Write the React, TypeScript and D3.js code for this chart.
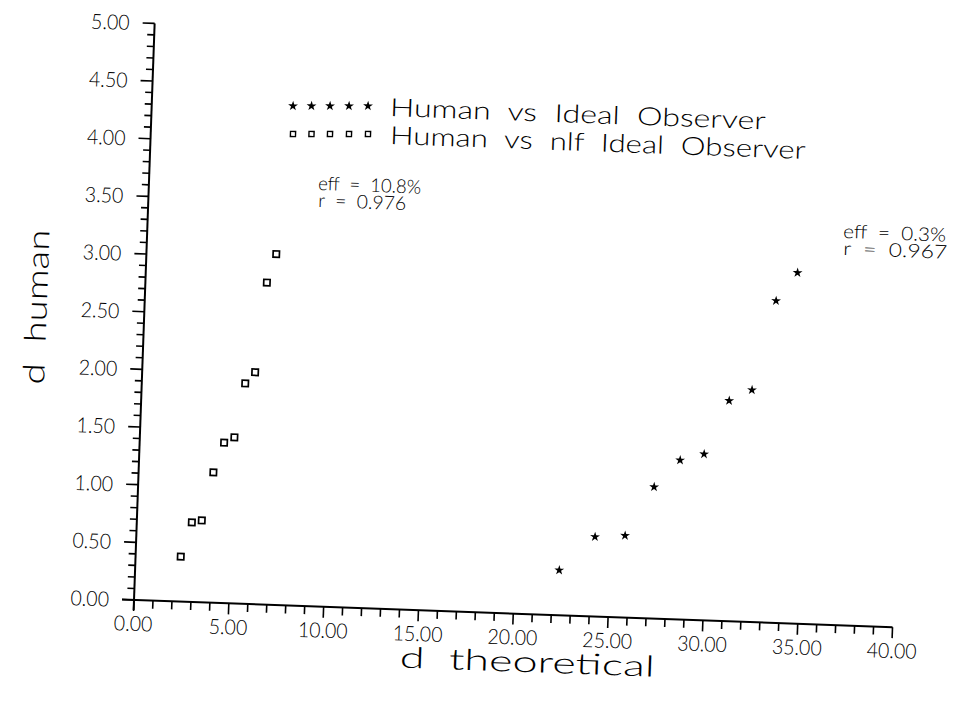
import React from "react";
import * as d3 from "d3";

// ---- data ----
const idealX = [22.34, 24.16, 25.74, 27.18, 28.5, 29.75, 30.97, 32.15, 33.25, 34.33];
const idealY = [0.39, 0.69, 0.71, 1.14, 1.38, 1.44, 1.91, 2.01, 2.79, 3.04];
const nlfX = [2.38, 2.9, 3.42, 3.94, 4.45, 4.98, 5.45, 5.95, 6.4, 6.84];
const nlfY = [0.39, 0.69, 0.71, 1.13, 1.39, 1.44, 1.91, 2.01, 2.79, 3.04];
const xTickValues = [0, 5, 10, 15, 20, 25, 30, 35, 40];
const yTickValues = [0, 0.5, 1, 1.5, 2, 2.5, 3, 3.5, 4, 4.5, 5];
const legendLabels = ["Human vs Ideal Observer", "Human vs nlf Ideal Observer"];
const annotations = [
  { lines: ["eff = 10.8%", "r = 0.976"] },
  { lines: ["eff = 0.3%", "r = 0.967"] },
];

// ---- layout ----
const W = 968;
const H = 702;
const OX = 134;
const OY = 600;
const ANG = 2.05; // scan skew, degrees clockwise
const rad = (ANG * Math.PI) / 180;
const c = Math.cos(rad);
const s = Math.sin(rad);
// convert a page position into the un-rotated frame of the group
const unrot = (gx: number, gy: number): [number, number] => {
  const dx = gx - OX;
  const dy = gy - OY;
  return [OX + dx * c + dy * s, OY - dx * s + dy * c];
};

const x = d3.scaleLinear().domain([0, 40]).range([OX, OX + 759]);
const y = d3.scaleLinear().domain([0, 5]).range([OY, OY - 577]);

const FONT = "Lato, 'DejaVu Sans', 'Liberation Sans', sans-serif";
const fmt = d3.format(".2f");
const labelWidth = (t: string) => t.replace(".", "").length * 11.2 + 5;

const starPath = d3.symbol(d3.symbolStar, 30)() as string;
const squarePath = d3.symbol(d3.symbolSquare, 40)() as string;
const legendSquare = d3.symbol(d3.symbolSquare, 26)() as string;

export default function App() {
  const xMinor = d3.range(0, 41, 1);
  const yMinor = d3.range(0, 51, 1).map((v) => v / 10);

  const legendRows = [
    { gy: 106, textY: 107, marker: "star" },
    { gy: 134, textY: 135, marker: "square" },
  ];
  const legendTextWidths = [376, 416];
  const markerXs = [293, 311.5, 330, 349, 368];

  const annPos = [
    { gx: 318, gy: 190, widths: [103, 88] },
    { gx: 843, gy: 238, widths: [103, 104] },
  ];

  const [ylx, yly] = unrot(36, 307);
  const [xtx, xty] = unrot(527, 672);

  return (
    <svg
      width={W}
      height={H}
      style={{ position: "absolute", left: 0, top: 0, background: "#fff" }}
      fontFamily={FONT}
      fontWeight={300}
    >
      <rect width={W} height={H} fill="#fff" />
      <g transform={`rotate(${ANG}, ${OX}, ${OY})`}>
        {/* axes lines */}
        <line x1={OX - 12} x2={x(40)} y1={OY} y2={OY} stroke="#000" strokeWidth={2} />
        <line x1={OX} x2={OX} y1={OY + 10} y2={y(5)} stroke="#000" strokeWidth={2} />
        {/* x ticks */}
        {xMinor.map((v) => (
          <line
            key={"xm" + v}
            x1={x(v)}
            x2={x(v)}
            y1={OY}
            y2={OY + (v % 5 === 0 ? 11 : 8)}
            stroke="#000"
            strokeWidth={1.6}
          />
        ))}
        {xTickValues.map((v) => (
          <text
            key={"xl" + v}
            x={x(v)}
            y={OY + 31}
            textAnchor="middle"
            fontSize={21}
            textLength={labelWidth(fmt(v))}
            lengthAdjust="spacingAndGlyphs"
            fill="#000"
          >
            {fmt(v)}
          </text>
        ))}
        {/* y ticks */}
        {yMinor.map((v, i) => (
          <line
            key={"ym" + i}
            x1={OX}
            x2={OX - (i % 5 === 0 ? 12 : 7)}
            y1={y(v)}
            y2={y(v)}
            stroke="#000"
            strokeWidth={1.6}
          />
        ))}
        {yTickValues.map((v) => (
          <text
            key={"yl" + v}
            x={OX - 25}
            y={y(v)}
            dy="0.36em"
            textAnchor="end"
            fontSize={21}
            textLength={labelWidth(fmt(v))}
            lengthAdjust="spacingAndGlyphs"
            fill="#000"
          >
            {fmt(v)}
          </text>
        ))}
        {/* axis titles */}
        <text
          transform={`translate(${ylx},${yly}) rotate(-90)`}
          textAnchor="middle"
          dy="0.36em"
          fontSize={30}
          textLength={155}
          lengthAdjust="spacingAndGlyphs"
          fill="#000"
          style={{ whiteSpace: "pre" }}
        >
          {"d  human"}
        </text>
        <text
          x={xtx}
          y={xty}
          textAnchor="middle"
          fontSize={29}
          textLength={255}
          lengthAdjust="spacingAndGlyphs"
          fill="#000"
          style={{ whiteSpace: "pre" }}
        >
          {"d  theoretical"}
        </text>
        {/* data */}
        {nlfX.map((v, i) => (
          <path
            key={"sq" + i}
            d={squarePath}
            transform={`translate(${x(v)},${y(nlfY[i])})`}
            fill="none"
            stroke="#000"
            strokeWidth={1.7}
          />
        ))}
        {idealX.map((v, i) => (
          <path
            key={"st" + i}
            d={starPath}
            transform={`translate(${x(v)},${y(idealY[i])})`}
            fill="#000"
          />
        ))}
        {/* legend */}
        {legendRows.map((r, ri) => (
          <g key={"lg" + ri}>
            {markerXs.map((mx, k) => {
              const [px, py] = unrot(mx, r.gy);
              return r.marker === "star" ? (
                <path key={k} d={starPath} transform={`translate(${px},${py})`} fill="#000" />
              ) : (
                <path
                  key={k}
                  d={legendSquare}
                  transform={`translate(${px},${py})`}
                  fill="none"
                  stroke="#000"
                  strokeWidth={1.4}
                />
              );
            })}
            {(() => {
              const [tx, ty] = unrot(390, r.textY);
              return (
                <text
                  x={tx}
                  y={ty}
                  dy="0.36em"
                  fontSize={25}
                  textLength={legendTextWidths[ri]}
                  lengthAdjust="spacingAndGlyphs"
                  fill="#000"
                  style={{ whiteSpace: "pre" }}
                >
                  {legendLabels[ri].replace(/ /g, "  ")}
                </text>
              );
            })()}
          </g>
        ))}
        {/* annotations */}
        {annotations.map((a, ai) =>
          a.lines.map((ln, li) => {
            const p = annPos[ai];
            const [tx, ty] = unrot(p.gx, p.gy + li * 17);
            return (
              <text
                key={"an" + ai + li}
                x={tx}
                y={ty}
                fontSize={19}
                textLength={p.widths[li]}
                lengthAdjust="spacingAndGlyphs"
                fill="#000"
                style={{ whiteSpace: "pre" }}
              >
                {ln.replace(/ /g, "  ")}
              </text>
            );
          })
        )}
      </g>
    </svg>
  );
}
